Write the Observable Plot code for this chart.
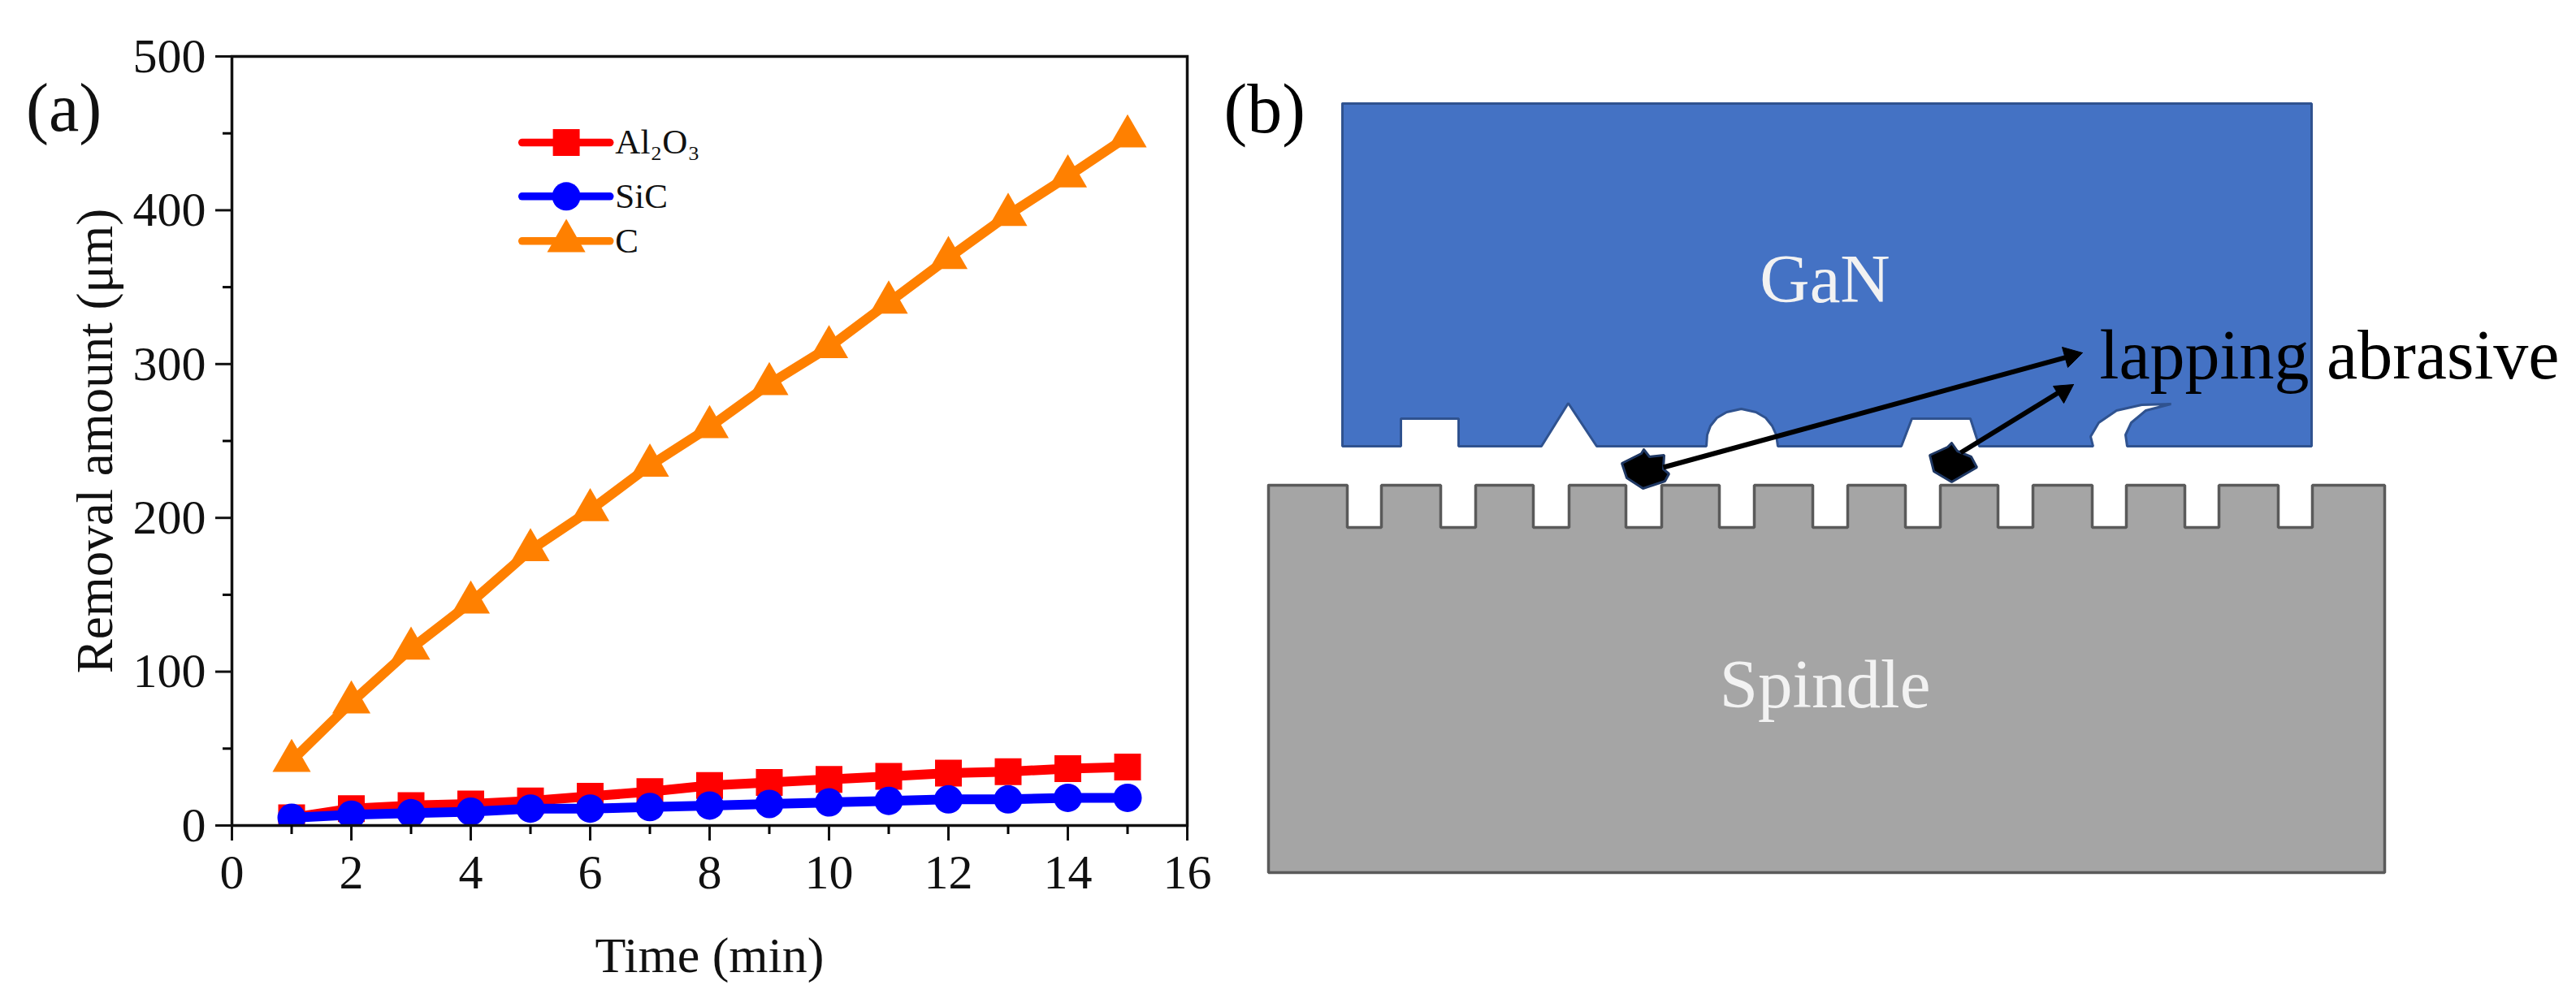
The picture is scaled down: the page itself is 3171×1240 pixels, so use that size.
<!DOCTYPE html>
<html>
<head>
<meta charset="utf-8">
<script src="https://cdn.jsdelivr.net/npm/d3@7"></script>
<script src="https://cdn.jsdelivr.net/npm/@observablehq/plot@0.6"></script>
<style>
html,body{margin:0;padding:0;background:#fff;}
#root{display:flex;width:3171px;height:1240px;overflow:hidden;}
svg{display:block;flex:none;}
</style>
</head>
<body>
<div id="root"></div>
<script>
// Panel (a) values
const time = [1,2,3,4,5,6,7,8,9,10,11,12,13,14,15];
const al2o3 = [5,11,13,14,16,19,22,26,28,30,32,34,35,37,38];
const sic = [5,7,8,9,11,11,12,13,14,15,16,17,17,18,18];
const carbon = [42,80,115,145,179,205,234,259,287,311,340,369,397,422,448];
const seriesNames = ["Al₂O₃","SiC","C"];
const seriesColors = ["#ff0000","#0000ff","#ff8000"];
const seriesSymbols = ["square","circle","triangle"];
const xMajor = [0,2,4,6,8,10,12,14,16];
const xMinor = [1,3,5,7,9,11,13,15];
const yMajor = [0,100,200,300,400,500];
const yMinor = [50,150,250,350,450];
// legend samples, in data units
const legendLineX = [4.86,6.33];
const legendMarkX = 5.6;
const legendTextX = 6.42;
const legendY = [444,409,380];

// Panel (b) schematic outlines, in schematic units
const ganOutline = [[1652,127],[2845,127],[2845,549],[2618,549],[2616,535],[2623,520],[2641,505],[2672,497],[2636,498],[2605,505],[2583,520],[2573,537],[2576,549],[2436,549],[2425,515],[2353,515],[2340,549],[2188,549],[2186,535],[2181,524],[2173,514],[2161,507],[2143,503],[2125,507],[2113,514],[2105,524],[2101,535],[2100,549],[1965,549],[1930,496],[1897,549],[1795,549],[1795,515],[1724,515],[1724,549],[1652,549],[1652,127]];
const slotLeft = [1658,1773,1887,2001,2116,2231,2345,2459,2575,2689,2804];
const slotRight = [1700,1816,1931,2045,2159,2274,2388,2502,2617,2731,2846];
const spindleBox = {left:1561,right:2935,top:597,bottom:1074,slot:649};
const particleA = [[2023,553],[2030,562],[2048,560],[2047,577],[2054,583],[2049,592],[2022,601],[2002,588],[1996,570],[2020,558],[2023,553]];
const particleB = [[2402,545],[2409,555],[2426,562],[2433,575],[2402,593],[2380,580],[2375,560],[2397,550],[2402,545]];
const shafts = [{x1:2047,y1:575,x2:2545,y2:439},{x1:2413,y1:557,x2:2535,y2:482}];
const headA = [[2563,434],[2538,427],[2545,452],[2563,434]];
const headB = [[2552,473],[2527,475],[2540,496],[2552,473]];
const centerLabels = [{t:"GaN",x:2246,y:344},{t:"Spindle",x:2246,y:843}];
const blackLabels = [{t:"lapping abrasive",x:2584,y:438},{t:"(b)",x:1506,y:135}];

const serif = "'Liberation Serif','Times New Roman',serif";
const series = [al2o3,sic,carbon];
const table = series.flatMap((vals,i)=>vals.map((v,j)=>({x:time[j],y:v,k:i})));

const marks = [];
[2,0,1].forEach(i=>{
  const rows = table.filter(d=>d.k===i);
  const r = [18.6,17.5,17.5][i];
  marks.push(Plot.line(rows,{x:"x",y:"y",stroke:seriesColors[i],strokeWidth:12,clip:true}));
  marks.push(Plot.dot(rows,{x:"x",y:"y",symbol:()=>seriesSymbols[i],r,fill:seriesColors[i],stroke:"none",clip:true}));
  marks.push(Plot.line(legendLineX.map(x=>({x,y:legendY[i]})),{x:"x",y:"y",stroke:seriesColors[i],strokeWidth:9.5,strokeLinecap:"round"}));
  marks.push(Plot.dot([{x:legendMarkX,y:legendY[i]}],{x:"x",y:"y",symbol:()=>seriesSymbols[i],r,fill:seriesColors[i],stroke:"none"}));
  marks.push(Plot.text([seriesNames[i]],{x:legendTextX,y:legendY[i],text:d=>d,textAnchor:"start",fontSize:43,fill:"#111",fontFamily:serif}));
});

const chart = Plot.plot({
  width:1500,height:1240,
  marginLeft:285,marginRight:39,marginTop:69,marginBottom:224,
  style:{background:"#fff",fontFamily:serif,overflow:"visible"},
  x:{domain:[0,16],label:null},
  y:{domain:[0,500],label:null},
  marks:[
    ...marks,
    Plot.frame({stroke:"#111",strokeWidth:3.5}),
    Plot.axisX({ticks:xMajor,tickSize:19,tickPadding:16,fontSize:60,strokeWidth:3,label:null,tickFormat:d=>String(d),color:"#111",fontFamily:serif}),
    Plot.axisX({ticks:xMinor,tickSize:11,strokeWidth:3,label:null,text:null}),
    Plot.axisY({ticks:yMajor,tickSize:20,tickPadding:12,fontSize:60,strokeWidth:3,label:null,tickFormat:d=>String(d),color:"#111",fontFamily:serif}),
    Plot.axisY({ticks:yMinor,tickSize:11,strokeWidth:3,label:null,text:null}),
    Plot.text(["Time (min)"],{frameAnchor:"bottom",dy:180,text:d=>d,fontSize:62,fill:"#111",fontFamily:serif}),
    Plot.text(["Removal amount (μm)"],{frameAnchor:"left",textAnchor:"middle",dx:-168,rotate:-90,text:d=>d,fontSize:63,fill:"#111",fontFamily:serif}),
    Plot.text(["(a)"],{x:-3.45,y:466,text:d=>d,textAnchor:"start",fontSize:84,fill:"#111",fontFamily:serif})
  ]
});

const spindle = [[spindleBox.left,spindleBox.top]];
slotLeft.forEach((l,i)=>{
  const r = slotRight[i];
  spindle.push([l,spindleBox.top],[l,spindleBox.slot],[r,spindleBox.slot],[r,spindleBox.top]);
});
spindle.push([spindleBox.right,spindleBox.top],[spindleBox.right,spindleBox.bottom],[spindleBox.left,spindleBox.bottom],[spindleBox.left,spindleBox.top]);

const poly = (pts,fill,stroke,sw)=>Plot.line(pts,{x:d=>d[0],y:d=>d[1],fill,stroke,strokeWidth:sw,strokeLinejoin:"miter",curve:"linear"});

const diagram = Plot.plot({
  width:1671,height:1240,
  marginLeft:0,marginRight:0,marginTop:0,marginBottom:0,
  style:{background:"transparent",fontFamily:serif,overflow:"visible"},
  x:{domain:[1500,3171],axis:null},
  y:{domain:[0,1240],range:[0,1240],axis:null},
  marks:[
    poly(ganOutline,"#4472c4","#2f528f",3),
    poly(spindle,"#a5a5a5","#5a5a5a",3.5),
    poly(particleA,"#000","#1f3864",3),
    poly(particleB,"#000","#1f3864",3),
    Plot.link(shafts,{x1:"x1",y1:"y1",x2:"x2",y2:"y2",stroke:"#000",strokeWidth:6}),
    poly(headA,"#000","#000",1),
    poly(headB,"#000","#000",1),
    Plot.text(centerLabels,{x:"x",y:"y",text:"t",fill:"#f2f2f2",textAnchor:"middle",lineAnchor:"middle",fontSize:85,fontFamily:serif}),
    Plot.text(blackLabels,{x:"x",y:"y",text:"t",fill:"#000",textAnchor:"start",lineAnchor:"middle",fontSize:86,fontFamily:serif})
  ]
});

const root = document.getElementById("root");
root.append(chart, diagram);
</script>
</body>
</html>
